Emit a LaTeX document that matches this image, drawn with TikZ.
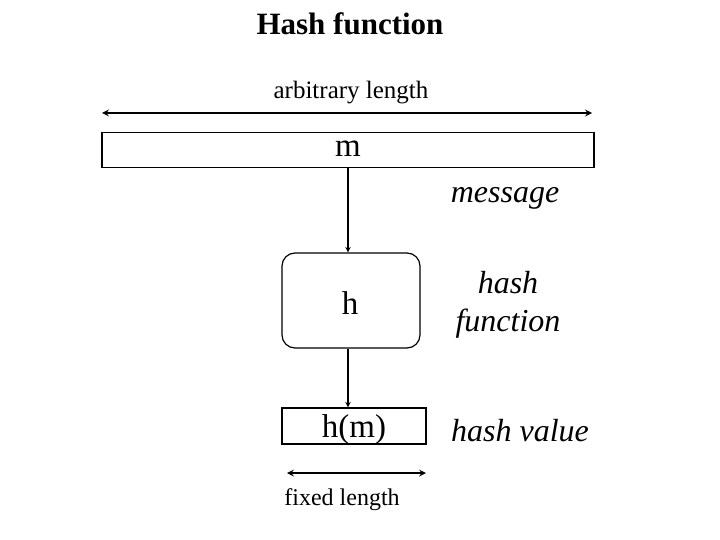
\documentclass[tikz,border=0pt]{standalone}
\usepackage{fontspec}
\setmainfont{Liberation Serif}
\usetikzlibrary{arrows}
\tikzset{
  box/.style={draw, line width=1.2pt, inner sep=0pt},
  span/.style={<->, line width=2pt},
  flow/.style={->, line width=1.4pt},
  big/.style={font=\fontsize{33}{37}\selectfont},
  note/.style={font=\fontsize{32}{38}\selectfont\itshape},
}
\begin{document}
\begin{tikzpicture}[>=stealth, x=1pt, y=-1pt]
  \useasboundingbox (0,0) rectangle (720,540);

  \node [font=\fontsize{31}{36}\selectfont\bfseries] (title) at (350,24) {Hash function};

  % input of any size
  \coordinate (al) at (102,113);
  \coordinate (ar) at (592,113);
  \draw [span] (al) -- (ar);
  \node [font=\fontsize{25}{30}\selectfont] (arb) at (351,93) {arbitrary length};

  \node [box, minimum width=492pt, minimum height=35pt] (mbox) at (348,150) {};
  \node [big] (m) at (348,149) {m};
  \node [note] (msg) at (505,198) {message};

  \node [box, rounded corners=13pt, minimum width=138pt, minimum height=95pt] (hbox) at (351,300.5) {};
  \node [big] (h) at (350,303) {h};
  \node [note, align=center] (hf) at (508,305) {hash\\function};

  \node [box, minimum width=144pt, minimum height=36pt] (hmbox) at (354,426) {};
  \node [big] (hm) at (354,430) {h(m)};
  \node [note] (hv) at (520,431) {hash value};

  \draw [flow] (mbox.south) -- (mbox.south |- hbox.north);
  \draw [flow] (mbox.south |- hbox.south) -- (mbox.south |- hmbox.north);

  % output of fixed size
  \coordinate (fl) at (287,473);
  \coordinate (fr) at (426,473);
  \draw [span] (fl) -- (fr);
  \node [font=\fontsize{24}{28}\selectfont] (fix) at (342,500) {fixed length};
\end{tikzpicture}
\end{document}
